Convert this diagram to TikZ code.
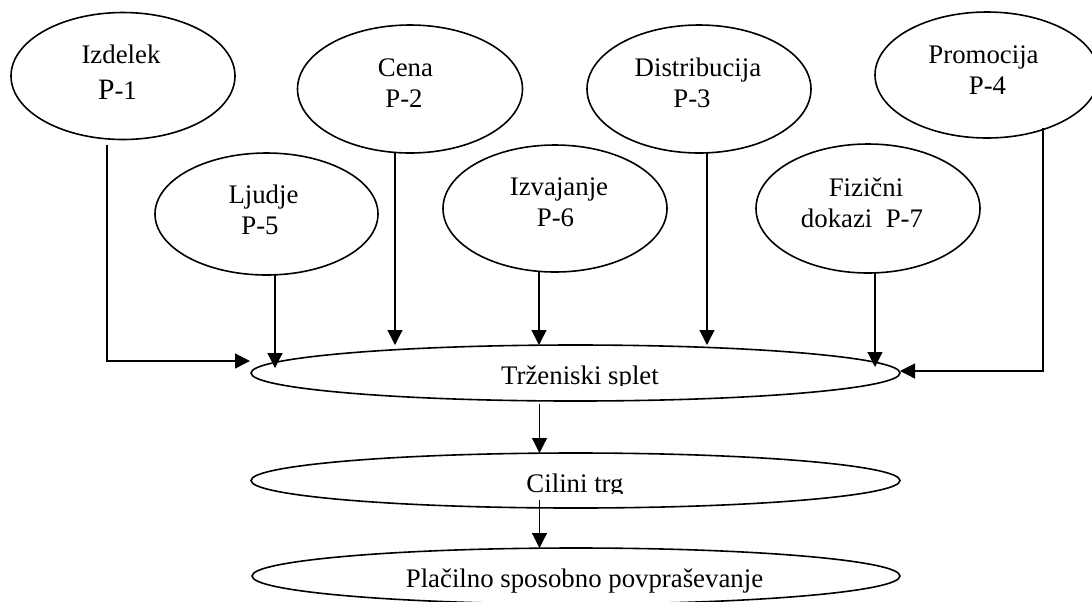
\documentclass[tikz,border=0pt]{standalone}
\usepackage{fontspec}
\setmainfont{Liberation Serif}
\usetikzlibrary{shapes.geometric,arrows.meta,calc}
\begin{document}
\begin{tikzpicture}[x=0.5pt,y=-0.5pt,
  oval/.style={draw,ellipse,inner sep=0pt,outer sep=0pt,line width=0.8pt},
  lbl/.style={anchor=base,inner sep=0pt,font=\fontsize{13.4}{15.5}\selectfont},
  arr/.style={line width=0.6pt,-{Triangle[length=7.5pt,width=7.5pt]}}]
\useasboundingbox (0,0) rectangle (1092,601);
\clip (0,0) rectangle (1092,601);

% the seven P's
\node[oval,minimum width=112pt,minimum height=63.5pt] (izd)   at (123,76)    {};
\node[oval,minimum width=112.5pt,minimum height=64pt] (cena)  at (410,89)    {};
\node[oval,minimum width=112pt,minimum height=64pt]   (dist)  at (699,89)    {};
\node[oval,minimum width=112pt,minimum height=63pt]   (promo) at (987,75)    {};
\node[oval,minimum width=111.5pt,minimum height=61pt] (ljud)  at (266.5,214) {};
\node[oval,minimum width=112pt,minimum height=63.5pt] (izv)   at (555,208.5) {};
\node[oval,minimum width=112pt,minimum height=64.5pt] (fiz)   at (868,208.5) {};

% the three levels below
\node[oval,minimum width=324.5pt,minimum height=28pt]   (mix) at (575.5,373) {};
\node[oval,minimum width=324.5pt,minimum height=27.5pt] (tgt) at (575.5,480.5) {};
\node[oval,minimum width=324pt,minimum height=28pt]     (dem) at (576,576) {};

% labels
\node[lbl] (izdA) at (121,63) {Izdelek};
\node[lbl] (izdB) at (117.5,99) {{\fontsize{14.8}{15.5}\selectfont P}-1};
\node[lbl] (cenaA) at (405.5,76) {Cena};
\node[lbl] (cenaB) at (404,107) {P-2};
\node[lbl] (distA) at (698,76) {Distribucija};
\node[lbl] (distB) at (692,107) {P-3};
\node[lbl] (promoA) at (983.5,63) {Promocija};
\node[lbl] (promoB) at (987.5,94) {P-4};
\node[lbl] (ljudA) at (263.5,203) {Ljudje};
\node[lbl] (ljudB) at (260,234) {P-5};
\node[lbl] (izvA) at (559,195) {Izvajanje};
\node[lbl] (izvB) at (555.5,226) {P-6};
\node[lbl] (fizA) at (866,196) {Fizični};
\node[lbl] (fizB) at (862,227) {dokazi\ \ P-7};

% single-line labels, cut off at the bottom of their boxes
\begin{scope}
  \clip (0,0) rectangle (1092,385);
  \node[lbl] (mixT) at (580,384) {Trženiski splet};
\end{scope}
\begin{scope}
  \clip (0,0) rectangle (1092,493);
  \node[lbl] (tgtT) at (575,492) {Cilini trg};
\end{scope}
\begin{scope}
  \clip (0,0) rectangle (1092,594);
  \node[lbl] (demT) at (584.5,587) {Plačilno sposobno povpraševanje};
\end{scope}

% connectors into the marketing mix
\draw[arr] ($(izd.south)+(-16,5)$) |- ($(mix.west)+(-1,-12)$);
\draw[arr] ($(cena.south)+(-15,0)$) coordinate (c2) -- (c2 |- mix.north);
\draw[arr] ($(dist.south)+(8,0)$) coordinate (c3) -- (c3 |- mix.north);
\draw[arr] ($(promo.south)+(56,-10)$) |- ($(mix.east)+(0,-2)$);
\draw[arr] ($(ljud.south)+(8.5,0)$) coordinate (c5) -- ($(c5 |- mix.west)+(0,-5)$);
\draw[arr] ($(izv.south)+(-16,0)$) coordinate (c6) -- (c6 |- mix.north);
\draw[arr] ($(fiz.south)+(7,0)$) coordinate (c7) -- ($(c7 |- mix.west)+(0,-6)$);

% down the chain
\draw[arr] ($(mix.south)+(-36,3)$) coordinate (d1) -- (d1 |- tgt.north);
\draw[arr] ($(tgt.south)+(-36,-8)$) coordinate (d2) -- (d2 |- dem.north);
\end{tikzpicture}
\end{document}
